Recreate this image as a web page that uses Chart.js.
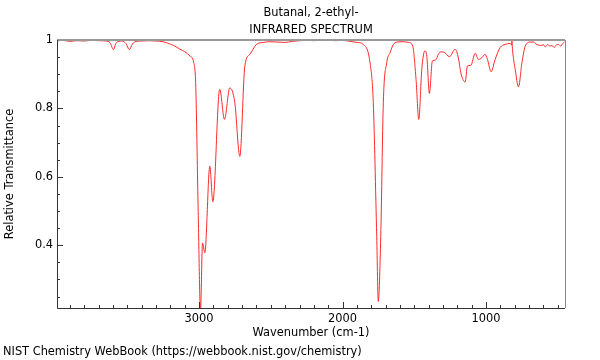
<!DOCTYPE html>
<html>
<head>
<meta charset="utf-8">
<script src="https://cdn.jsdelivr.net/npm/chart.js@4.4.0/dist/chart.umd.min.js"></script>
<style>
  body { margin: 0; background: #fff; }
  #wrap { width: 600px; height: 360px; }
</style>
</head>
<body>
<div id="wrap"><canvas id="ir-chart" width="600" height="360"></canvas></div>
<script>
// spectrum
const wavenumbers = [
  3990, 3950, 3900, 3850, 3800, 3750, 3700, 3650, 3620, 3597, 3580, 3560, 3540, 3510, 3486, 3465,
  3440, 3400, 3350, 3300, 3250, 3200, 3160, 3133, 3100, 3063, 3037, 3023, 3007, 2990, 2976, 2960,
  2925, 2904, 2856, 2823, 2786, 2751, 2716, 2681, 2646, 2600, 2550, 2507, 2450, 2400, 2350, 2300,
  2250, 2200, 2150, 2100, 2050, 2000, 1948, 1900, 1856, 1809, 1786, 1762, 1751, 1734, 1716, 1692,
  1669, 1646, 1620, 1580, 1540, 1511, 1488, 1469, 1448, 1427, 1413, 1395, 1374, 1355, 1320, 1297,
  1255, 1216, 1193, 1176, 1146, 1130, 1106, 1076, 1053, 1030, 1007, 990, 965, 937, 902, 867,
  832, 822, 820, 816, 797, 774, 750, 727, 692, 669, 646, 620, 600, 588, 570, 555,
  541, 525, 510, 495, 480, 465, 453
];
const transmittance = [
  0.997, 0.999, 0.996, 0.998, 0.997, 0.999, 0.998, 0.997, 0.992, 0.972, 0.990, 0.996, 0.997, 0.990, 0.972, 0.988,
  0.996, 0.997, 0.998, 0.997, 0.995, 0.988, 0.980, 0.973, 0.966, 0.953, 0.934, 0.865, 0.520, 0.210, 0.407, 0.378,
  0.631, 0.527, 0.856, 0.768, 0.860, 0.817, 0.660, 0.924, 0.958, 0.987, 0.993, 0.995, 0.994, 0.993, 0.996, 0.998,
  0.999, 0.998, 0.999, 0.999, 0.998, 0.999, 0.996, 0.993, 0.987, 0.934, 0.817, 0.426, 0.236, 0.426, 0.817, 0.934,
  0.963, 0.987, 0.994, 0.995, 0.993, 0.982, 0.885, 0.768, 0.914, 0.968, 0.953, 0.844, 0.939, 0.941, 0.965, 0.965,
  0.951, 0.973, 0.948, 0.904, 0.877, 0.924, 0.926, 0.961, 0.943, 0.948, 0.958, 0.943, 0.907, 0.943, 0.978, 0.987,
  0.990, 0.985, 1.000, 0.973, 0.914, 0.863, 0.934, 0.982, 0.994, 0.994, 0.987, 0.984, 0.986, 0.980, 0.987, 0.982,
  0.984, 0.978, 0.986, 0.987, 0.982, 0.990, 0.994
];

const xTickLabels = [1000, 2000, 3000];
const yTickLabels = [0.4, 0.6, 0.8, 1];
const xRange = [450, 3990];
const yRange = [0.2166, 1.0];

const titleLines = ['Butanal, 2-ethyl-', 'INFRARED SPECTRUM'];
const footerText = 'NIST Chemistry WebBook (https://webbook.nist.gov/chemistry)';
const FONT = '"DejaVu Sans", sans-serif';
const FSIZE = 11.4;

// frame, inward ticks, title and footer
const framePlugin = {
  id: 'frame',
  afterDraw(chart) {
    const { ctx, chartArea: a, scales } = chart;
    const x = scales.x, y = scales.y;
    ctx.save();

    ctx.strokeStyle = '#333';
    ctx.lineWidth = 1;
    ctx.beginPath();
    for (let w = 500; w <= 3900; w += 100) {
      const px = Math.round(x.getPixelForValue(w)) + 0.5;
      const len = xTickLabels.includes(w) ? 6 : 3;
      ctx.moveTo(px, a.bottom);
      ctx.lineTo(px, a.bottom - len);
    }
    for (let i = 5; i <= 20; i++) {
      const t = i / 20;
      const py = Math.round(y.getPixelForValue(t)) + 0.5;
      const len = (i % 4 === 0) ? 6 : 3;
      ctx.moveTo(a.left, py);
      ctx.lineTo(a.left + len, py);
    }
    ctx.stroke();

    // top and right borders are grey
    ctx.strokeStyle = '#999';
    ctx.lineWidth = 2;
    ctx.beginPath();
    ctx.moveTo(a.left, a.top);
    ctx.lineTo(a.right, a.top);
    ctx.stroke();
    ctx.lineWidth = 1;
    ctx.strokeStyle = '#888';
    ctx.beginPath();
    ctx.moveTo(a.right + 0.5, a.top);
    ctx.lineTo(a.right + 0.5, a.bottom);
    ctx.stroke();

    // left and bottom axis lines
    ctx.strokeStyle = '#333';
    ctx.beginPath();
    ctx.moveTo(a.left + 0.5, a.top);
    ctx.lineTo(a.left + 0.5, a.bottom + 0.5);
    ctx.lineTo(a.right, a.bottom + 0.5);
    ctx.stroke();

    ctx.fillStyle = '#000';
    ctx.font = FSIZE + 'px ' + FONT;
    ctx.textAlign = 'center';
    ctx.textBaseline = 'middle';
    const cx = (a.left + a.right) / 2;
    ctx.fillText(titleLines[0], cx, 13);
    ctx.fillText(titleLines[1], cx, 30);

    ctx.textAlign = 'left';
    ctx.fillText(footerText, 3, 352);
    ctx.restore();
  }
};

const ctx = document.getElementById('ir-chart').getContext('2d');
const irChart = new Chart(ctx, {
  type: 'line',
  data: {
    datasets: [{
      data: wavenumbers.map((w, i) => ({ x: w, y: transmittance[i] })),
      borderColor: '#ff2a2a',
      borderWidth: 1,
      pointRadius: 0,
      cubicInterpolationMode: 'monotone',
      fill: false
    }]
  },
  options: {
    responsive: false,
    animation: false,
    events: [],
    layout: { padding: { left: 0, right: 35, top: 40, bottom: 0 } },
    plugins: {
      legend: { display: false },
      tooltip: { enabled: false }
    },
    scales: {
      x: {
        type: 'linear',
        reverse: true,
        min: xRange[0],
        max: xRange[1],
        afterFit: s => { s.height = 52; },
        afterBuildTicks: s => { s.ticks = xTickLabels.map(v => ({ value: v })); },
        grid: { display: false, drawTicks: false },
        border: { display: false },
        ticks: {
          color: '#000', padding: 4, maxRotation: 0,
          font: { family: FONT, size: FSIZE },
          callback: v => String(v)
        },
        title: {
          display: true,
          text: 'Wavenumber (cm-1)',
          color: '#000',
          font: { family: FONT, size: FSIZE },
          padding: { top: 0, bottom: 20 }
        }
      },
      y: {
        type: 'linear',
        min: yRange[0],
        max: yRange[1],
        afterFit: s => { s.width = 57; },
        afterBuildTicks: s => { s.ticks = yTickLabels.map(v => ({ value: v })); },
        grid: { display: false, drawTicks: false },
        border: { display: false },
        ticks: {
          color: '#000', padding: 4,
          font: { family: FONT, size: FSIZE },
          callback: v => String(v)
        },
        title: {
          display: true,
          text: 'Relative Transmittance',
          color: '#000',
          font: { family: FONT, size: FSIZE },
          padding: { top: 3, bottom: 0 }
        }
      }
    }
  },
  plugins: [framePlugin]
});
</script>
</body>
</html>
